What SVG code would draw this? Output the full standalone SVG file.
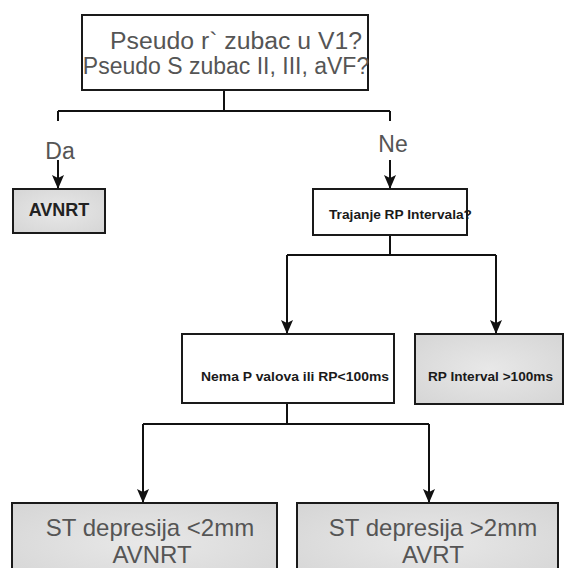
<svg xmlns="http://www.w3.org/2000/svg" width="565" height="568" viewBox="0 0 565 568">
<defs>
<radialGradient id="g" cx="0.5" cy="0.5" r="0.7">
<stop offset="0" stop-color="#e8e8e8"/>
<stop offset="1" stop-color="#d5d5d5"/>
</radialGradient>
<marker id="ah" markerUnits="userSpaceOnUse" markerWidth="16" markerHeight="14" refX="14" refY="6" orient="auto" viewBox="0 0 16 12">
<path d="M0,0 L14,6 L0,12 L3,6 Z" fill="#111"/>
</marker>
</defs>
<style>
.box{stroke:#1a1a1a;stroke-width:2}
.w{fill:#fff}
.gr{fill:url(#g)}
.big{font-family:"Liberation Sans",Arial,sans-serif;fill:#555;text-anchor:middle}
.sm{font-family:"Liberation Sans",Arial,sans-serif;font-weight:bold;fill:#1a1a1a;font-size:13px}
.ln{fill:none;stroke:#111;stroke-width:2}
</style>
<rect width="565" height="568" fill="#fff"/>
<g id="connectors">
<path class="ln" d="M224,90 V111 M58,111 H390 M58,111 V121 M390,111 V121"/>
<path class="ln" d="M58,160 V189" marker-end="url(#ah)"/>
<path class="ln" d="M390,160 V189" marker-end="url(#ah)"/>
<path class="ln" d="M390,235 V255 M287,255 H496"/>
<path class="ln" d="M287,255 V334" marker-end="url(#ah)"/>
<path class="ln" d="M496,255 V334" marker-end="url(#ah)"/>
<path class="ln" d="M287,403 V424 M143,424 H429"/>
<path class="ln" d="M143,424 V503" marker-end="url(#ah)"/>
<path class="ln" d="M429,424 V503" marker-end="url(#ah)"/>
</g>
<g id="labels">
<text class="big" x="60" y="159" font-size="23">Da</text>
<text class="big" x="393" y="152" font-size="23">Ne</text>
</g>
<g id="n-start">
<rect class="box w" x="82" y="15" width="286" height="75"/>
<text class="big" x="236" y="49" font-size="23" textLength="252" lengthAdjust="spacingAndGlyphs">Pseudo r` zubac u V1?</text>
<text class="big" x="226" y="74" font-size="23">Pseudo S zubac II, III, aVF?</text>
</g>
<g id="n-avnrt1">
<rect class="box gr" x="13" y="189" width="92" height="44"/>
<text x="59" y="216" font-family="Liberation Sans, Arial, sans-serif" font-weight="bold" font-size="18" fill="#222" text-anchor="middle">AVNRT</text>
</g>
<g id="n-rp">
<rect class="box w" x="313" y="189" width="154" height="46"/>
<text class="sm" x="329" y="219" textLength="143" lengthAdjust="spacingAndGlyphs">Trajanje RP Intervala?</text>
</g>
<g id="n-nema">
<rect class="box w" x="182" y="334" width="212" height="69"/>
<text class="sm" x="201" y="381" textLength="188" lengthAdjust="spacingAndGlyphs">Nema P valova ili RP&lt;100ms</text>
</g>
<g id="n-rpgt">
<rect class="box gr" x="415" y="334" width="148" height="70"/>
<text class="sm" x="428" y="381" textLength="125" lengthAdjust="spacingAndGlyphs">RP Interval &gt;100ms</text>
</g>
<g id="n-avnrt2">
<rect class="box gr" x="12" y="503" width="265" height="80"/>
<text class="big" x="150" y="536" font-size="24">ST depresija &lt;2mm</text>
<text class="big" x="152" y="563" font-size="24">AVNRT</text>
</g>
<g id="n-avrt">
<rect class="box gr" x="297" y="503" width="261" height="80"/>
<text class="big" x="433" y="536" font-size="24">ST depresija &gt;2mm</text>
<text class="big" x="433" y="563" font-size="24">AVRT</text>
</g>
</svg>
